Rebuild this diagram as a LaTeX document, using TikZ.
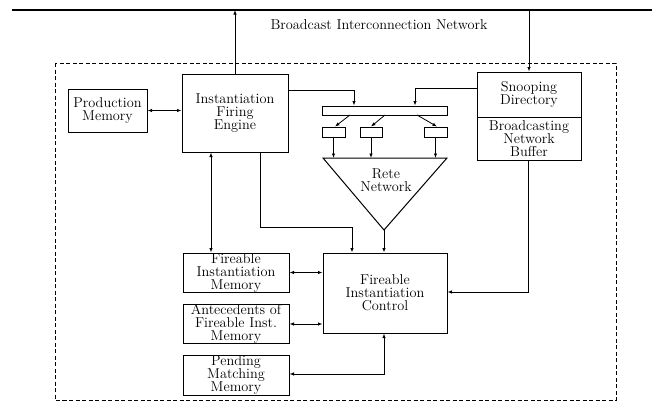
\documentclass[tikz,border=0pt]{standalone}
\usetikzlibrary{arrows.meta,calc}
\begin{document}
\begin{tikzpicture}[x=1pt,y=-1pt,
  box/.style={draw,line width=1pt,inner sep=0pt,align=center,font=\fontsize{14.3}{13}\selectfont},
  sbox/.style={draw,line width=0.9pt,inner sep=0pt},
  conn/.style={line width=0.8pt},
  arr/.style={conn,-{Latex[length=4.5pt,width=3.5pt]}},
  darr/.style={conn,{Latex[length=4.5pt,width=3.5pt]}-{Latex[length=4.5pt,width=3.5pt]}},
  lbl/.style={font=\fontsize{14.3}{13}\selectfont,align=center,inner sep=0pt}]
\useasboundingbox (0,0) rectangle (654,405);
% top network line and dashed boundary
\coordinate (netL) at (12,10);
\coordinate (netR) at (652,10);
\draw[line width=1.1pt] (netL) -- (netR);
\node[lbl] (net) at (379,25) {Broadcast Interconnection Network};
\draw[line width=0.9pt,dash pattern=on 4pt off 2.5pt] (55,63) rectangle (616,400);
% nodes
\node[box,minimum width=79pt,minimum height=43pt] (pm) at (107.5,110.5) {Production\\Memory};
\node[box,minimum width=106pt,minimum height=78pt] (ife) at (235,113) {Instantiation\\Firing\\Engine};
\node[box,minimum width=104pt,minimum height=45pt] (snoop) at (529,94.5) {Snooping\\Directory};
\node[box,minimum width=104pt,minimum height=43pt] (buf) at (529,138.5) {Broadcasting\\Network\\Buffer};
\node[sbox,minimum width=125pt,minimum height=9pt] (bar) at (384.5,110.5) {};
\node[sbox,minimum width=23pt,minimum height=10pt] (b1) at (333.5,132) {};
\node[sbox,minimum width=22pt,minimum height=10pt] (b2) at (371,132) {};
\node[sbox,minimum width=23pt,minimum height=10pt] (b3) at (435.5,132) {};
\coordinate (tl) at (323,158);
\coordinate (tr) at (447,158);
\coordinate (apex) at (384,230);
\draw[line width=1pt] (tl) -- (tr) -- (apex) -- cycle;
\node[lbl] (rete) at (386,180) {Rete\\Network};
\node[box,minimum width=124pt,minimum height=80pt] (fic) at (385,293) {Fireable\\Instantiation\\Control};
\node[box,minimum width=106pt,minimum height=39pt] (fim) at (236,272.5) {Fireable\\Instantiation\\Memory};
\node[box,minimum width=106pt,minimum height=38pt] (ant) at (236,324) {Antecedents of\\Fireable Inst.\\Memory};
\node[box,minimum width=106pt,minimum height=40pt] (pend) at (236,375) {Pending\\Matching\\Memory};
% connectors
\draw[arr] (ife.north) -- (ife.north |- netL);
\draw[arr] (snoop.north |- netR) -- (snoop.north);
\draw[darr] (pm.east) -- (pm.east -| ife.west);
\coordinate (c1) at (354,90);
\draw[arr] (ife.east |- c1) -| (bar.north -| c1);
\coordinate (c2) at (415,88);
\draw[arr] (snoop.west |- c2) -| (bar.north -| c2);
\coordinate (d1) at (350,115);
\coordinate (d2) at (385,115);
\coordinate (d3) at (417,115);
\draw[arr] (d1) -- ($(b1.north)+(1.5,0)$);
\draw[arr] (d2) -- (b2.north);
\draw[arr] (d3) -- ($(b3.north)+(1.5,0)$);
\draw[arr] (b1.south) -- (b1.south |- tl);
\draw[arr] (b2.south) -- (b2.south |- tl);
\draw[arr] (b3.south) -- (b3.south |- tl);
\draw[arr] (apex) -- (apex |- fic.north);
\coordinate (e1) at (211,200);
\draw[darr] (ife.south -| e1) -- (fim.north -| e1);
\coordinate (e2) at (260,227);
\coordinate (e3) at (352,227);
\draw[arr] (ife.south -| e2) -- (e2) -- (e3) -- (fic.north -| e3);
\draw[darr] (fim.east) -- (fim.east -| fic.west);
\draw[darr] (ant.east) -- (ant.east -| fic.west);
\coordinate (p1) at (384,374);
\draw[darr] (fic.south -| p1) -- (p1) -- (pend.east |- p1);
\coordinate (q1) at (528,292);
\draw[arr] (buf.south -| q1) -- (q1) -- (fic.east |- q1);
\end{tikzpicture}
\end{document}
